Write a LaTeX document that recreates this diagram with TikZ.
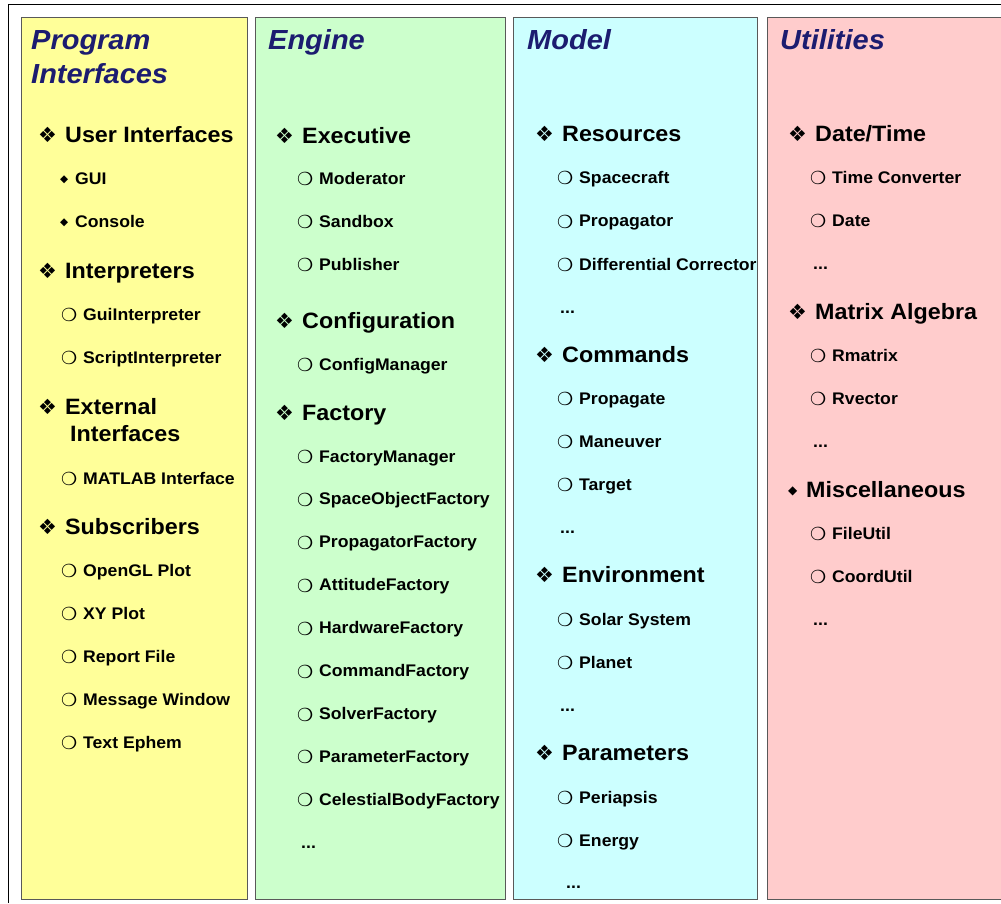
\documentclass[tikz,border=0pt]{standalone}
\usepackage{fontspec}
\setmainfont[FakeStretch=1.05]{Liberation Sans}
\newfontfamily\dingfont{DejaVu Sans}

\definecolor{pyellow}{HTML}{FFFF99}
\definecolor{pgreen}{HTML}{CCFFCC}
\definecolor{pcyan}{HTML}{CCFFFF}
\definecolor{ppink}{HTML}{FFCCCC}
\definecolor{headblue}{HTML}{1C1C70}

\newcommand\headfont{\fontsize{27.6}{30}\selectfont\bfseries\itshape}
\newcommand\catfont{\fontsize{22.2}{24}\selectfont\bfseries}
\newcommand\subfont{\fontsize{16.8}{19}\selectfont\bfseries}

\begin{document}
\begin{tikzpicture}[x=1pt,y=-1pt,
    column/.style={draw=black!65,line width=1pt},
    head/.style={anchor=base west,inner sep=0pt,font=\headfont,text=headblue},
    cat/.style={anchor=base west,inner sep=0pt,font=\catfont,
      execute at begin node={\makebox[27pt][l]{\dingfont\fontsize{21}{21}\selectfont ❖}}},
    catd/.style={anchor=base west,inner sep=0pt,font=\catfont,
      execute at begin node={\makebox[18pt][l]{\raisebox{2.5pt}{\dingfont\fontsize{12}{12}\selectfont ◆}}}},
    sub/.style={anchor=base west,inner sep=0pt,font=\subfont,
      execute at begin node={\makebox[22pt][l]{\raisebox{-1.6pt}{\dingfont\fontsize{18}{18}\selectfont ❍}}}},
    subd/.style={anchor=base west,inner sep=0pt,font=\subfont,
      execute at begin node={\makebox[15pt][l]{\raisebox{1.8pt}{\dingfont\fontsize{10.5}{10.5}\selectfont ◆}}}},
    dots/.style={anchor=base west,inner sep=0pt,font=\subfont}]
  \useasboundingbox (0,0) rectangle (1001,903);

  % frame and the four columns
  \draw[line width=1pt] (8,903) -- (8,4) -- (1001,4);
  \draw[column,fill=pyellow] (21,17) rectangle (247,899);
  \draw[column,fill=pgreen] (255,17) rectangle (505,899);
  \draw[column,fill=pcyan] (513,17) rectangle (757,899);
  \draw[column,fill=ppink] (767,17) rectangle (1012,899);

  % program interfaces
  \node[head] (pihead) at (31,49) {Program};
  \node[head] (pihead2) at (31,83) {Interfaces};
  \node[cat] (userif) at (38,142) {User Interfaces};
  \foreach \n/\t [count=\i from 0] in {gui/GUI,console/Console}
    \node[subd] (\n) at (60,{184+43*\i}) {\t};
  \node[cat] (interp) at (38,278) {Interpreters};
  \foreach \n/\t [count=\i from 0] in {guiint/GuiInterpreter,scriptint/ScriptInterpreter}
    \node[sub] (\n) at (61,{320+43*\i}) {\t};
  \node[cat] (extif) at (38,414) {External};
  \node[anchor=base west,inner sep=0pt,font=\catfont] (extif2) at (70,441) {Interfaces};
  \node[sub] (matlab) at (61,484) {MATLAB Interface};
  \node[cat] (subscr) at (38,534) {Subscribers};
  \foreach \n/\t [count=\i from 0] in {opengl/OpenGL Plot,xyplot/XY Plot,report/Report File,
      msgwin/Message Window,ephem/Text Ephem}
    \node[sub] (\n) at (61,{576+43*\i}) {\t};

  % engine
  \node[head] (enghead) at (268,49) {Engine};
  \node[cat] (exec) at (275,143) {Executive};
  \foreach \n/\t [count=\i from 0] in {moderator/Moderator,sandbox/Sandbox,publisher/Publisher}
    \node[sub] (\n) at (297,{184+43*\i}) {\t};
  \node[cat] (config) at (275,328) {Configuration};
  \node[sub] (configmgr) at (297,370) {ConfigManager};
  \node[cat] (factory) at (275,420) {Factory};
  \foreach \n/\t [count=\i from 0] in {factmgr/FactoryManager,spaceobj/SpaceObjectFactory,
      propfact/PropagatorFactory,attfact/AttitudeFactory,hwfact/HardwareFactory,
      cmdfact/CommandFactory,solverfact/SolverFactory,parmfact/ParameterFactory,
      bodyfact/CelestialBodyFactory}
    \node[sub] (\n) at (297,{462+42.9*\i}) {\t};
  \node[dots] (engdots) at (301,848) {...};

  % model
  \node[head] (modhead) at (527,49) {Model};
  \node[cat] (resources) at (535,141) {Resources};
  \foreach \n/\t [count=\i from 0] in {spacecraft/Spacecraft,propagator/Propagator,
      diffcorr/Differential Corrector}
    \node[sub] (\n) at (557,{183+43.5*\i}) {\t};
  \node[dots] (resdots) at (560,313) {...};
  \node[cat] (commands) at (535,362) {Commands};
  \foreach \n/\t [count=\i from 0] in {propagate/Propagate,maneuver/Maneuver,target/Target}
    \node[sub] (\n) at (557,{404+43*\i}) {\t};
  \node[dots] (cmddots) at (560,533) {...};
  \node[cat] (environ) at (535,582) {Environment};
  \foreach \n/\t [count=\i from 0] in {solarsys/Solar System,planet/Planet}
    \node[sub] (\n) at (557,{625+43*\i}) {\t};
  \node[dots] (envdots) at (560,711) {...};
  \node[cat] (params) at (535,760) {Parameters};
  \foreach \n/\t [count=\i from 0] in {periapsis/Periapsis,energy/Energy}
    \node[sub] (\n) at (557,{803+43*\i}) {\t};
  \node[dots] (pardots) at (566,888) {...};

  % utilities
  \node[head] (utilhead) at (780,49) {Utilities};
  \node[cat] (datetime) at (788,141) {Date/Time};
  \foreach \n/\t [count=\i from 0] in {timeconv/Time Converter,date/Date}
    \node[sub] (\n) at (810,{183+43*\i}) {\t};
  \node[dots] (timedots) at (813,269) {...};
  \node[cat] (matrix) at (788,319) {Matrix Algebra};
  \foreach \n/\t [count=\i from 0] in {rmatrix/Rmatrix,rvector/Rvector}
    \node[sub] (\n) at (810,{361+43*\i}) {\t};
  \node[dots] (matdots) at (813,447) {...};
  \node[catd] (misc) at (788,497) {Miscellaneous};
  \foreach \n/\t [count=\i from 0] in {fileutil/FileUtil,coordutil/CoordUtil}
    \node[sub] (\n) at (810,{539+43*\i}) {\t};
  \node[dots] (miscdots) at (813,625) {...};
\end{tikzpicture}
\end{document}
